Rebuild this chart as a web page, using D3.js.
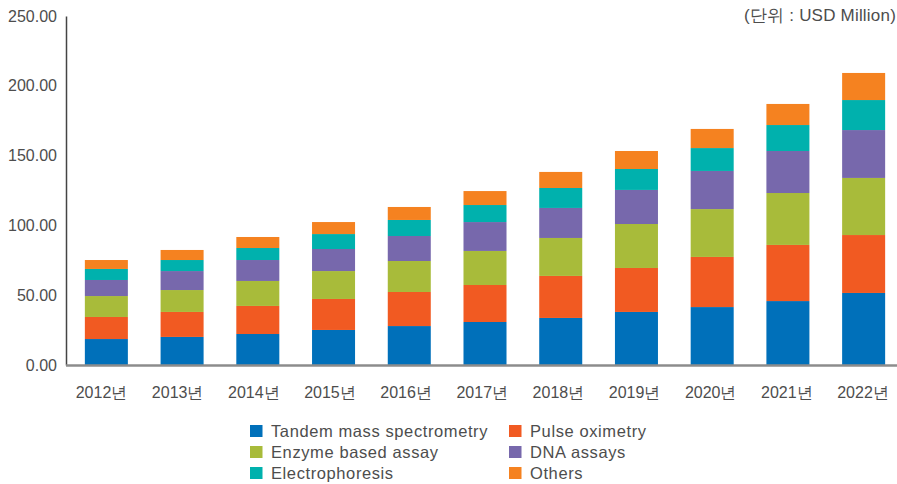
<!DOCTYPE html>
<html>
<head>
<meta charset="utf-8">
<script src="https://cdn.jsdelivr.net/npm/d3@7"></script>
<style>
  html, body { margin: 0; padding: 0; background: #fff; }
  svg { display: block; }
  text { font-family: "Liberation Sans", Arial, sans-serif; fill: #4d4d4d; }
</style>
</head>
<body>
<svg id="chart" width="897" height="484"></svg>
<script>
// Market size by product type (USD Million)
const years = ["2012년","2013년","2014년","2015년","2016년","2017년","2018년","2019년","2020년","2021년","2022년"];
const seriesNames = ["Tandem mass spectrometry","Pulse oximetry","Enzyme based assay","DNA assays","Electrophoresis","Others"];
const tandem          = [18.6, 20.1, 22.2, 25.1, 27.9, 30.8, 33.7, 38.0, 41.5, 45.8, 51.6];
const pulseOximetry   = [15.8, 17.9, 20.1, 22.2, 24.4, 26.5, 30.1, 31.5, 35.9, 40.2, 41.5];
const enzymeAssay     = [15.0, 15.7, 17.9, 20.0, 22.2, 24.4, 27.2, 31.5, 34.3, 37.2, 40.9];
const dnaAssays       = [11.5, 13.6, 15.0, 15.8, 17.9, 20.7, 21.5, 24.4, 27.3, 30.1, 34.3];
const electrophoresis = [7.9, 7.9, 8.6, 10.7, 11.5, 12.2, 14.3, 15.0, 16.4, 18.6, 21.5];
const others          = [6.4, 7.2, 7.9, 8.6, 9.3, 10.0, 11.5, 12.9, 13.7, 15.1, 19.4];
const yTicks = [0, 50, 100, 150, 200, 250];
const colors = ["#0070ba", "#f15a22", "#a8bb3a", "#7768ac", "#00b1ad", "#f58220"];

const seriesValues = [tandem, pulseOximetry, enzymeAssay, dnaAssays, electrophoresis, others];
const rows = years.map((yr, i) => {
  const r = { year: yr };
  seriesNames.forEach((s, k) => { r[s] = seriesValues[k][i]; });
  return r;
});

const svg = d3.select("#chart");
const plotLeft = 66, plotTop = 16, plotBottom = 365;

const x = d3.scaleBand().domain(years).range([68.5, 901.5]).paddingInner(0.432).paddingOuter(0.216);
const y = d3.scaleLinear().domain([0, 250]).range([plotBottom, plotTop]);

const layers = d3.stack().keys(seriesNames)(rows);

svg.append("g").selectAll("g")
  .data(layers)
  .join("g")
  .attr("fill", (d, i) => colors[i])
  .selectAll("rect")
  .data(d => d)
  .join("rect")
  .attr("x", d => x(d.data.year))
  .attr("width", x.bandwidth())
  .attr("y", d => y(d[1]))
  .attr("height", d => y(d[0]) - y(d[1]));

// Y axis: line plus labels, no tick marks
const yAxis = d3.axisLeft(y).tickValues(yTicks).tickFormat(d3.format(".2f")).tickSize(0).tickPadding(9);
const gy = svg.append("g").attr("transform", `translate(${plotLeft},0)`).call(yAxis);
gy.select(".domain").attr("stroke", "#444").attr("stroke-width", 1.5);
gy.selectAll("text").attr("font-size", 16).attr("fill", "#4d4d4d")
  .attr("font-family", "'Liberation Sans', Arial, sans-serif");

// Baseline
svg.append("line")
  .attr("x1", plotLeft).attr("x2", 897)
  .attr("y1", plotBottom + 0.5).attr("y2", plotBottom + 0.5)
  .attr("stroke", "#8c8c8c").attr("stroke-width", 2.5);

// X labels
const xLabel = d3.scalePoint().domain(years).range([101, 862.5]);
const xAxis = d3.axisBottom(xLabel).tickSize(0).tickPadding(0);
const gx = svg.append("g").attr("transform", `translate(0,${plotBottom})`).call(xAxis);
gx.select(".domain").remove();
gx.selectAll("text").attr("font-size", 16).attr("fill", "#333")
  .attr("font-family", "'Liberation Sans', Arial, 'Noto Sans CJK KR', sans-serif")
  .attr("dy", null).attr("y", 33);

// Unit note
svg.append("text")
  .attr("x", 896).attr("y", 21)
  .attr("text-anchor", "end")
  .attr("font-size", 17).attr("letter-spacing", 0.2).attr("fill", "#333")
  .attr("font-family", "'Liberation Sans', Arial, 'Noto Sans CJK KR', sans-serif")
  .text("(단위 : USD Million)");

// Legend, two columns
const legend = svg.append("g");
const colX = [250, 509], rowY = [425, 446, 467];
seriesNames.forEach((name, i) => {
  const cx = colX[i % 2], cy = rowY[Math.floor(i / 2)];
  const g = legend.append("g").attr("transform", `translate(${cx},${cy})`);
  g.append("rect").attr("width", 12.5).attr("height", 12).attr("fill", colors[i]);
  g.append("text").attr("x", 21).attr("y", 11.5)
    .attr("font-size", 16.5).attr("letter-spacing", 0.6).attr("fill", "#4d4d4d")
    .attr("font-family", "'Liberation Sans', Arial, sans-serif")
    .text(name);
});
</script>
</body>
</html>
